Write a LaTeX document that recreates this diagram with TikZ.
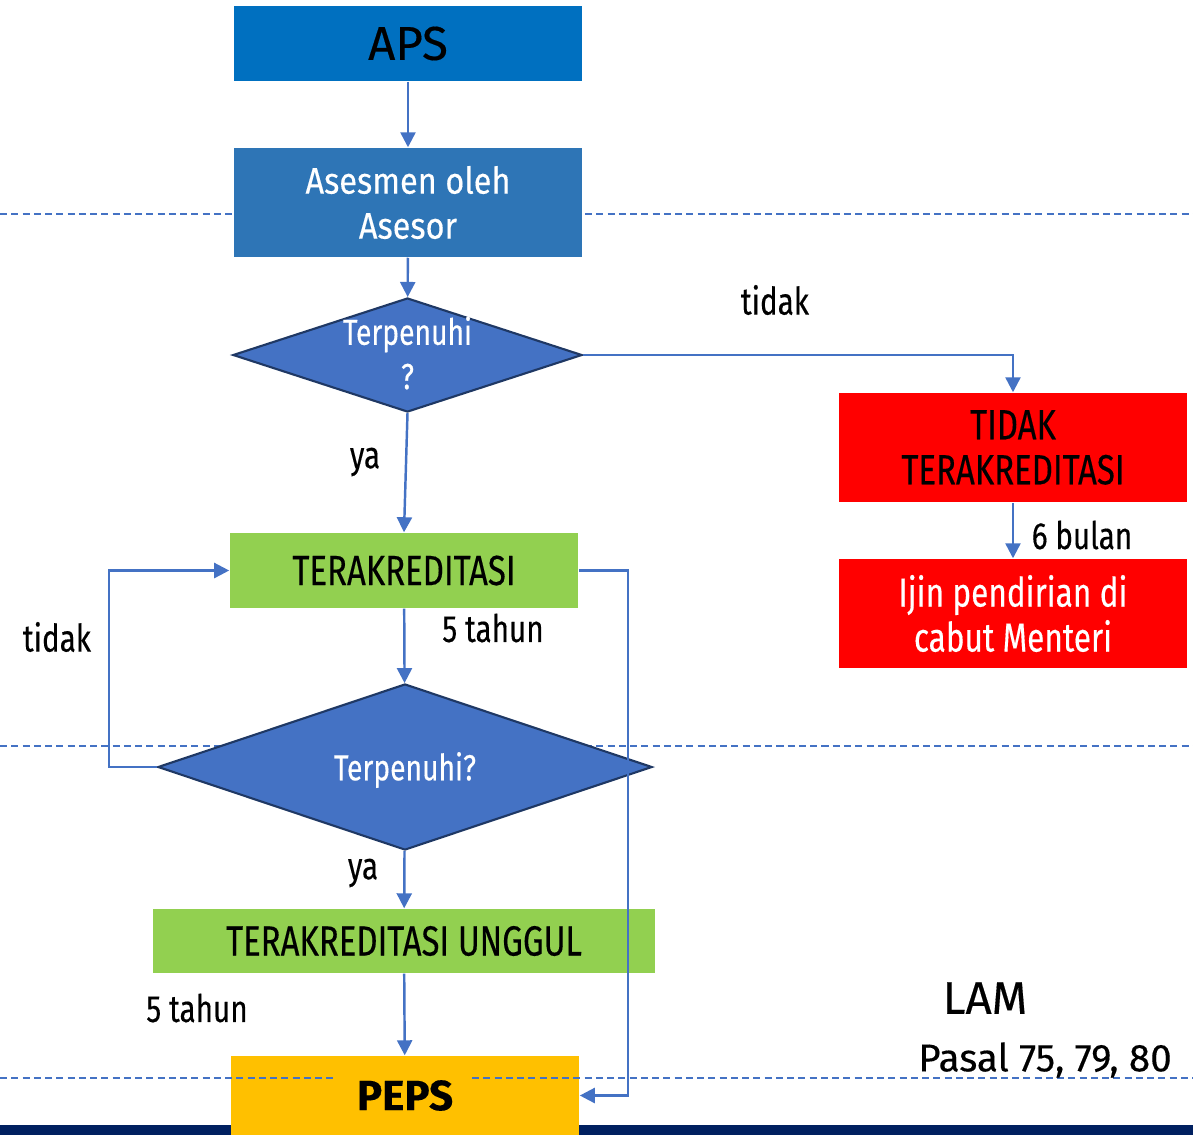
\documentclass[tikz,border=0pt]{standalone}
\usepackage{fontspec}
\setmainfont[FakeBold=0.3]{Fira Sans}
\newfontfamily\narrowfont[FakeStretch=0.78,FakeBold=0.3]{Fira Sans}
\newfontfamily\midfont[FakeStretch=0.88,FakeBold=0.3]{Fira Sans}
\usepackage{tikz}
\usetikzlibrary{positioning,shapes.geometric,arrows.meta}
\definecolor{apsblue}{HTML}{0070C0}
\definecolor{asesblue}{HTML}{2E75B6}
\definecolor{dmdblue}{HTML}{4472C4}
\definecolor{dmdline}{HTML}{1F3864}
\definecolor{akred}{HTML}{92D050}
\definecolor{pepsgold}{HTML}{FFC000}
\definecolor{barnavy}{HTML}{002060}

\begin{document}
\begin{tikzpicture}[x=0.01cm,y=-0.01cm,
  box/.style={rectangle,inner sep=0pt,minimum width=3.48cm,align=center},
  dmd/.style={diamond,draw=dmdline,line width=0.6pt,fill=dmdblue,inner sep=0pt},
  blacktxt/.style={font=\narrowfont\fontsize{12}{12.8}\selectfont,text=black},
  conn/.style={draw=dmdblue,line width=0.7pt,-{Triangle[length=1.5mm,width=1.5mm]}},
  lbl/.style={font=\narrowfont\fontsize{10.8}{13}\selectfont,inner sep=0pt},
  sep/.style={draw=dmdblue,line width=0.4pt,dash pattern=on 2pt off 1.2pt}]
\useasboundingbox (0,0) rectangle (1193,1135);
\fill [barnavy] (0,1125) rectangle (1193,1135);
\draw [sep] (0,214) -- (1193,214);
\draw [sep] (0,746) -- (1193,746);

\node [box,fill=apsblue,minimum height=0.75cm,font=\fontsize{13.5}{15}\selectfont] (aps) at (408,43.5) {APS};
\node [box,fill=asesblue,minimum height=1.09cm,text=white,font=\midfont\fontsize{10.5}{12.8}\selectfont] (ases) at (408,202.5) {Asesmen oleh\\Asesor};
\node [dmd,minimum width=3.49cm,minimum height=1.14cm] (d1) at (407.5,355) {};
\node [text=white,align=center,font=\narrowfont\fontsize{10.3}{12.6}\selectfont] (d1txt) at ([yshift=0.02cm]d1) {Terpenuhi\\?};
\node [box,fill=red,minimum height=1.09cm,blacktxt] (tidak) at (1013,447.5) {TIDAK\\TERAKREDITASI};
\node [box,fill=red,minimum height=1.09cm,text=white,font=\narrowfont\fontsize{11.5}{12.8}\selectfont] (ijin) at (1013,613.5) {Ijin pendirian di\\cabut Menteri};
\node [box,fill=akred,minimum height=0.75cm,blacktxt] (terak) at (404,570.5) {TERAKREDITASI};
\node [dmd,minimum width=4.94cm,minimum height=1.66cm] (d2) at (405,767) {};
\node [text=white,font=\narrowfont\fontsize{10.3}{13}\selectfont] (d2txt) at ([yshift=-0.03cm]d2) {Terpenuhi?};
\node [box,fill=akred,minimum width=5.02cm,minimum height=0.64cm,blacktxt] (ung) at (404,941) {TERAKREDITASI UNGGUL};
\node [box,fill=pepsgold,minimum height=0.79cm,font=\bfseries\fontsize{12}{15}\selectfont] (peps) at (405,1095.5) {PEPS};

\draw [sep] (0,1078) -- (335,1078);
\draw [sep] (472,1078) -- (1193,1078);

\draw [conn] (aps) -- (ases);
\draw [conn] (ases) -- (d1);
\draw [conn] (d1.east) -| (tidak.north);
\draw [conn] (tidak) -- (ijin);
\draw [conn] (d1.south) -- (terak.north);
\draw [conn] (terak) -- (d2);
\draw [conn] (d2.west) -- ++(-48,0) |- (terak.west);
\draw [conn] (terak.east) -- ++(49,0) |- (peps.east);
\draw [conn] (d2) -- (ung);
\draw [conn] (ung) -- (peps);

\node [lbl] (ltidak1) at (775,300) {tidak};
\node [lbl] (lya1) at (365,462) {ya};
\node [lbl] (lbulan) at (1082,535) {6 bulan};
\node [lbl] (ltahun1) at (493,628) {5 tahun};
\node [lbl] (ltidak2) at (57,637) {tidak};
\node [lbl] (lya2) at (363,873) {ya};
\node [lbl] (ltahun2) at (197,1008) {5 tahun};
\node [lbl,font=\fontsize{13}{15}\selectfont] (llam) at (985,998) {LAM};
\node [lbl,font=\fontsize{11}{14}\selectfont] (lpasal) at (1045,1060) {Pasal 75, 79, 80};
\end{tikzpicture}
\end{document}
